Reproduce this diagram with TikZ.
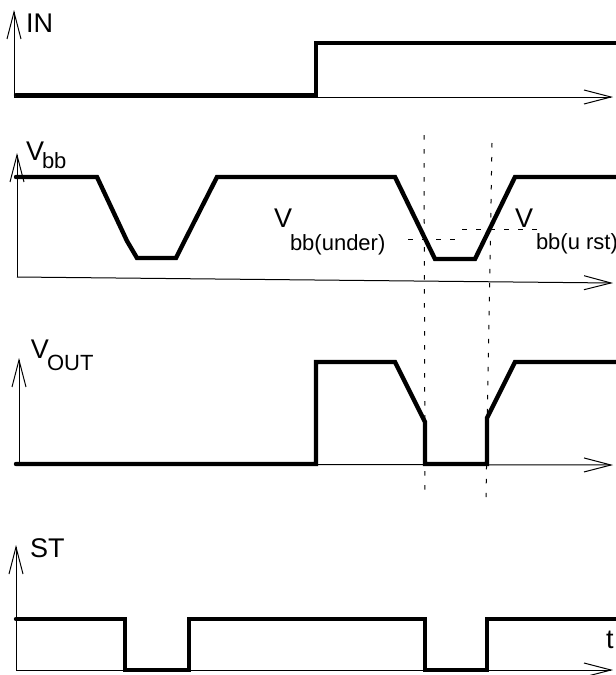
\documentclass[tikz,border=0pt]{standalone}
\usepackage{fontspec}
\setmainfont{Liberation Sans}
\usetikzlibrary{arrows.meta}

\tikzset{
	axis/.style={line width=0.5pt, -{Straight Barb[length=13.5pt,width=7pt]}},
	signal/.style={line width=2.2pt, line join=miter, line cap=round},
	guide/.style={line width=0.5pt, dash pattern=on 2.25pt off 4.75pt},
	lbl/.style={anchor=base west, inner sep=0pt, outer sep=0pt, font=\fontsize{13.5}{16}\selectfont},
	sublbl/.style={anchor=base west, inner sep=0pt, outer sep=0pt, font=\fontsize{11}{13}\selectfont},
}

\begin{document}
\begin{tikzpicture}[x=0.5pt,y=-0.5pt]

% frame %{{{2

	\useasboundingbox (0,0) rectangle (616,675);

% parameters %{{{2

	\def\tipx{613}
	\def\endx{616}

% coordinates %{{{2

	\coordinate (Oin) at (14,97);
	\coordinate (Yin) at (14,10);
	\coordinate (Xin) at (\tipx,97);

	\coordinate (Obb) at (17,277);
	\coordinate (Ybb) at (17,153);
	\coordinate (Xbb) at (\tipx,283);

	\coordinate (Oout) at (19,464);
	\coordinate (Yout) at (19,358);
	\coordinate (Xout) at (\tipx,465);

	\coordinate (Ost) at (16,670);
	\coordinate (Yst) at (16,545);
	\coordinate (Xst) at (\tipx,670);

	\coordinate (A1) at (424,135);
	\coordinate (A2) at (425,492);
	\coordinate (B1) at (492,143);
	\coordinate (B2) at (486,497);

	\coordinate (U1) at (408,239);
	\coordinate (U2) at (455,239);
	\coordinate (R1) at (462,229);
	\coordinate (R2) at (543,229);

% axes %{{{2

	\draw[axis] (Oin) -- (Yin);
	\draw[axis] (Oin) -- (Xin);
	\draw[axis] (Obb) -- (Ybb);
	\draw[axis] (Obb) -- (Xbb);
	\draw[axis] (Oout) -- (Yout);
	\draw[axis] (Oout) -- (Xout);
	\draw[axis] (Ost) -- (Yst);
	\draw[axis] (Ost) -- (Xst);

% thresholds %{{{2

	\draw[guide] (A1) -- (A2);
	\draw[guide] (B1) -- (B2);
	\draw[guide] (U1) -- (U2);
	\draw[guide] (R1) -- (R2);

% signals %{{{2

	% IN
	\draw[signal] (16,95) -- (316,95) -- (316,43) -- (\endx,43);

	% Vbb
	\draw[signal] (16,177) -- (97,177) -- (127,241) -- (137,258) -- (176,258)
		-- (184,242) -- (217,177) -- (395,177) -- (435,259) -- (475,259)
		-- (515,177) -- (\endx,177);

	% VOUT
	\draw[signal] (16,464) -- (316,464) -- (316,362) -- (395,362) -- (425,422)
		-- (425,464) -- (487,464) -- (487,418) -- (515,362) -- (\endx,362);

	% ST
	\draw[signal] (16,619) -- (125,619) -- (125,670) -- (189,670) -- (189,619)
		-- (425,619) -- (425,670) -- (487,670) -- (487,619) -- (\endx,619);

% labels %{{{2

	\node[lbl] (labIN) at (26,32) {IN};

	\node[lbl] (labVbb) at (26,160) {V};
	\node[sublbl] (labVbbs) at (42,168) {bb};

	\node[lbl] (labUnder) at (274,227) {V};
	\node[sublbl] (labUnders) at (290,250) {bb(under)};

	\node[lbl] (labUrst) at (515,227) {V};
	\node[sublbl] (labUrsts) at (536,249) {bb(u rst)};

	\node[lbl] (labVout) at (31,358) {V};
	\node[sublbl] (labVouts) at (47,370) {OUT};

	\node[lbl] (labST) at (30,557) {ST};

	\node[lbl] (labt) at (606,648) {t};

% closing %{{{2

\end{tikzpicture}
\end{document}
